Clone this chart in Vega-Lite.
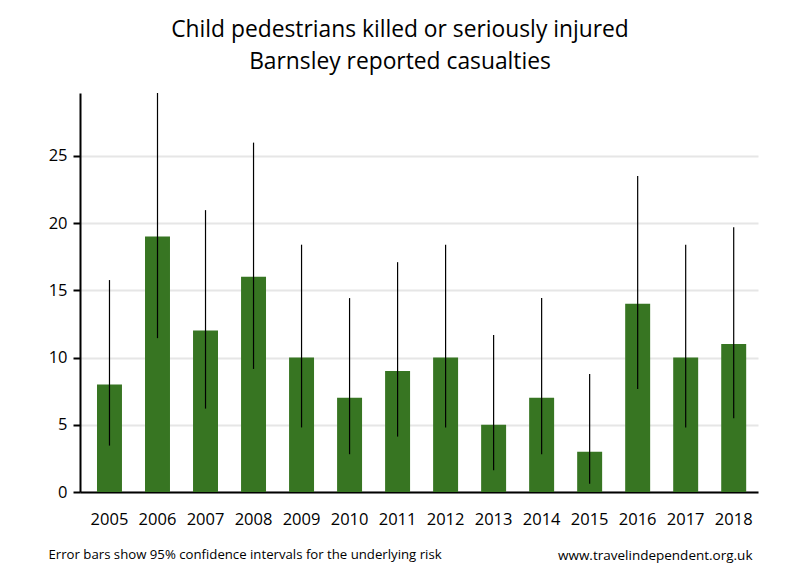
{
  "$schema": "https://vega.github.io/schema/vega-lite/v6.json",
  "width": 678,
  "height": 399,
  "autosize": {"type": "none"},
  "padding": {"left": 80, "top": 93, "right": 42, "bottom": 88},
  "background": "white",
  "config": {
    "view": {"stroke": null},
    "font": "Open Sans"
  },
  "title": {
    "text": ["Child pedestrians killed or seriously injured", "Barnsley reported casualties"],
    "fontSize": 22.8,
    "fontWeight": "normal",
    "font": "Open Sans",
    "color": "black",
    "anchor": "middle",
    "dx": -19,
    "lineHeight": 32,
    "offset": 19
  },
  "data": {
    "values": [
      {"year": "2005", "count": 8, "lower": 3.45, "upper": 15.76},
      {"year": "2006", "count": 19, "lower": 11.44, "upper": 29.67},
      {"year": "2007", "count": 12, "lower": 6.2, "upper": 20.96},
      {"year": "2008", "count": 16, "lower": 9.15, "upper": 25.98},
      {"year": "2009", "count": 10, "lower": 4.8, "upper": 18.39},
      {"year": "2010", "count": 7, "lower": 2.81, "upper": 14.42},
      {"year": "2011", "count": 9, "lower": 4.12, "upper": 17.09},
      {"year": "2012", "count": 10, "lower": 4.8, "upper": 18.39},
      {"year": "2013", "count": 5, "lower": 1.62, "upper": 11.67},
      {"year": "2014", "count": 7, "lower": 2.81, "upper": 14.42},
      {"year": "2015", "count": 3, "lower": 0.62, "upper": 8.77},
      {"year": "2016", "count": 14, "lower": 7.65, "upper": 23.49},
      {"year": "2017", "count": 10, "lower": 4.8, "upper": 18.39},
      {"year": "2018", "count": 11, "lower": 5.49, "upper": 19.68}
    ]
  },
  "encoding": {
    "x": {
      "field": "year",
      "type": "nominal",
      "sort": null,
      "scale": {"paddingInner": 0.48, "paddingOuter": 0.3, "align": 0.59},
      "axis": {
        "title": "Error bars show 95% confidence intervals for the underlying risk",
        "titleFont": "Open Sans",
        "titleFontSize": 13.2,
        "titleFontWeight": "normal",
        "titleColor": "black",
        "titleX": -32,
        "titleY": 62,
        "titleAlign": "left",
        "titleBaseline": "middle",
        "labelAngle": 0,
        "labelFontSize": 16.5,
        "labelColor": "black",
        "labelPadding": 19,
        "labelBaseline": "top",
        "ticks": false,
        "domainColor": "black",
        "domainWidth": 2,
        "grid": false
      }
    }
  },
  "layer": [
    {
      "mark": {"type": "bar", "color": "#377522"},
      "encoding": {
        "y": {
          "field": "count",
          "type": "quantitative",
          "scale": {"domain": [0, 29.67], "nice": false},
          "axis": {
            "values": [0, 5, 10, 15, 20, 25],
            "title": "www.travelindependent.org.uk",
            "titleAngle": 0,
            "titleFont": "Open Sans",
            "titleFontSize": 13.5,
            "titleFontWeight": "normal",
            "titleColor": "black",
            "titleX": 672,
            "titleY": 462,
            "titleAlign": "right",
            "titleBaseline": "middle",
            "labelFontSize": 16.5,
            "labelColor": "black",
            "labelPadding": 6,
            "tickSize": 7,
            "tickWidth": 2,
            "tickColor": "black",
            "domainColor": "black",
            "domainWidth": 2,
            "grid": true,
            "gridColor": "#e6e6e6",
            "gridWidth": 2
          }
        }
      }
    },
    {
      "mark": {"type": "rule", "color": "black", "strokeWidth": 1.2},
      "encoding": {
        "y": {"field": "lower", "type": "quantitative"},
        "y2": {"field": "upper"}
      }
    }
  ]
}
